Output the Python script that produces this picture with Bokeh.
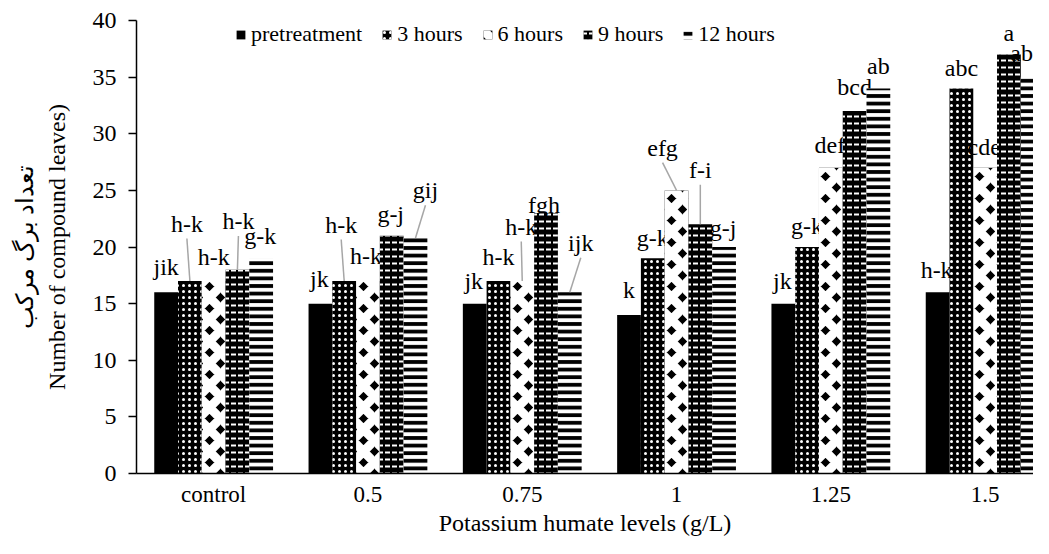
from bokeh.plotting import figure
from bokeh.models import ColumnDataSource, FixedTicker, Range1d, Legend, LegendItem
from bokeh.embed import file_html
from bokeh.resources import INLINE
from bokeh.core.properties import value

# ---------------- data ----------------
categories = ["control", "0.5", "0.75", "1", "1.25", "1.5"]
series_names = ["pretreatment", "3 hours", "6 hours", "9 hours", "12 hours"]

pretreatment = [16, 15, 15, 14, 15, 16]
hours_3 = [17, 17, 17, 19, 20, 34]
hours_6 = [17, 17, 17, 25, 27, 27]
hours_9 = [18, 21, 23, 22, 32, 37]
hours_12 = [19, 20.8, 16, 20, 34, 35]

letters_pre = ["jik", "jk", "jk", "k", "jk", "h-k"]
letters_3 = ["h-k", "h-k", "h-k", "g-k", "g-k", "abc"]
letters_6 = ["h-k", "h-k", "h-k", "efg", "def", "cde"]
letters_9 = ["h-k", "g-j", "fgh", "f-i", "bcd", "a"]
letters_12 = ["g-k", "gij", "ijk", "g-j", "ab", "ab"]

y_ticks = [0, 5, 10, 15, 20, 25, 30, 35, 40]

# ---------------- label placement (screen px, relative to bar top) ----------------
label_dx = [
    [0, -1, -1, 0, -1, -1],
    [-3, -3, 0, 0, 0, 0],
    [0, -2, -1, -14, -1, -1],
    [1, -1, -2, 0, 0, 0],
    [-1, 10, 11, -1, 0, -11],
]
label_up = [
    [26, 25, 23, 25, 23, 23],
    [58, 57, 24, 21, 21, 21],
    [24, 25, 55, 43, 23, 21],
    [49, 22, 8, 55, 24, 22],
    [23, 48, 50, 19, 23, 24],
]
has_leader = [
    [0, 0, 0, 0, 0, 0],
    [1, 1, 0, 0, 0, 0],
    [0, 0, 1, 1, 0, 0],
    [1, 0, 0, 1, 0, 0],
    [0, 1, 1, 0, 0, 0],
]

all_values = [pretreatment, hours_3, hours_6, hours_9, hours_12]
all_letters = [letters_pre, letters_3, letters_6, letters_9, letters_12]

styles = [
    dict(fill_color="black"),
    dict(fill_color="black", hatch_pattern=".", hatch_color="white", hatch_scale=6, hatch_weight=1),
    dict(fill_color="black", hatch_pattern="x", hatch_color="white", hatch_scale=22, hatch_weight=9),
    dict(fill_color="black", hatch_pattern='"', hatch_color="white", hatch_scale=7, hatch_weight=2),
    dict(fill_color="white", hatch_pattern="-", hatch_color="black", hatch_scale=7.6, hatch_weight=3.8),
]

FONT = "Liberation Serif, Times New Roman, serif"

# ---------------- geometry ----------------
FIG_W, FIG_H = 1033, 538
BORDER_L, BORDER_T, BORDER_B = 136, 20, 60
FRAME_W = FIG_W - BORDER_L
FRAME_H = FIG_H - BORDER_T - BORDER_B
X0 = -0.5
PX_PER_X = 154.3
X1 = X0 + FRAME_W / PX_PER_X
Y0, Y1 = 0, 40
PX_PER_Y = FRAME_H / (Y1 - Y0)
BAR_W = 0.154

p = figure(width=FIG_W, height=FIG_H, output_backend="svg", toolbar_location=None,
           x_range=Range1d(X0, X1), y_range=Range1d(Y0, Y1),
           min_border_left=BORDER_L, min_border_right=0,
           min_border_top=BORDER_T, min_border_bottom=BORDER_B)
p.outline_line_color = None
p.xgrid.visible = False
p.ygrid.visible = False
p.background_fill_color = "white"

legend_items = []
for k, (name, vals, lets, st) in enumerate(zip(series_names, all_values, all_letters, styles)):
    off = (k - 2) * BAR_W
    xs = [i + off for i in range(len(categories))]
    src = ColumnDataSource(dict(x=xs, top=vals))
    r = p.vbar(x="x", top="top", bottom=0, width=BAR_W, source=src, line_color=None, **st)
    legend_items.append(LegendItem(label=name, renderers=[r]))

    lx = [xs[i] + label_dx[k][i] / PX_PER_X for i in range(len(xs))]
    ly = [vals[i] + label_up[k][i] / PX_PER_Y for i in range(len(xs))]
    lsrc = ColumnDataSource(dict(x=lx, y=ly, t=lets))
    p.text(x="x", y="y", text="t", source=lsrc, text_align="center", text_baseline="middle",
           text_font=value(FONT), text_font_size="24px", text_color="black")

    seg = dict(x0=[], y0=[], x1=[], y1=[])
    for i in range(len(xs)):
        if has_leader[k][i]:
            seg["x0"].append(lx[i])
            seg["y0"].append(ly[i] - 15 / PX_PER_Y)
            seg["x1"].append(xs[i])
            seg["y1"].append(vals[i])
    p.segment(x0="x0", y0="y0", x1="x1", y1="y1", source=ColumnDataSource(seg),
              line_color="#a6a6a6", line_width=1.5)

legend = Legend(items=legend_items, orientation="horizontal", location=(99, 426),
                label_text_font=FONT, label_text_font_size="22px", label_text_color="black",
                label_height=26, glyph_width=11, glyph_height=11, label_standoff=5, spacing=19,
                padding=2, margin=0, border_line_color=None, background_fill_alpha=0)
p.add_layout(legend, "center")

# x axis
xa = p.xaxis[0]
xa.ticker = FixedTicker(ticks=list(range(len(categories))))
xa.major_label_overrides = {i: c for i, c in enumerate(categories)}
xa.major_tick_out = 0
xa.major_tick_in = 0
xa.minor_tick_line_color = None
xa.axis_line_color = "black"
xa.axis_line_width = 1.5
xa.major_label_text_font = FONT
xa.major_label_text_font_size = "23px"
xa.major_label_text_color = "black"
xa.major_label_standoff = 8
xa.axis_label = "Potassium humate levels (g/L)"
xa.axis_label_text_font = FONT
xa.axis_label_text_font_size = "24px"
xa.axis_label_text_font_style = "normal"
xa.axis_label_text_color = "black"
xa.axis_label_standoff = 0

ya = p.yaxis[0]
ya.ticker = FixedTicker(ticks=y_ticks)
ya.major_tick_out = 8
ya.major_tick_in = 0
ya.minor_tick_line_color = None
ya.axis_line_color = "black"
ya.axis_line_width = 1.5
ya.major_tick_line_width = 1.5
ya.major_tick_line_color = "black"
ya.major_label_text_font = FONT
ya.major_label_text_font_size = "24px"
ya.major_label_text_color = "black"
ya.major_label_standoff = 12
ya.axis_label = "تعداد برگ مرکب\nNumber of compound leaves)"
ya.axis_label_text_font = FONT
ya.axis_label_text_font_size = "24px"
ya.axis_label_text_font_style = "normal"
ya.axis_label_text_color = "black"
ya.axis_label_standoff = 20

open("out.html", "w").write(file_html(p, INLINE))
